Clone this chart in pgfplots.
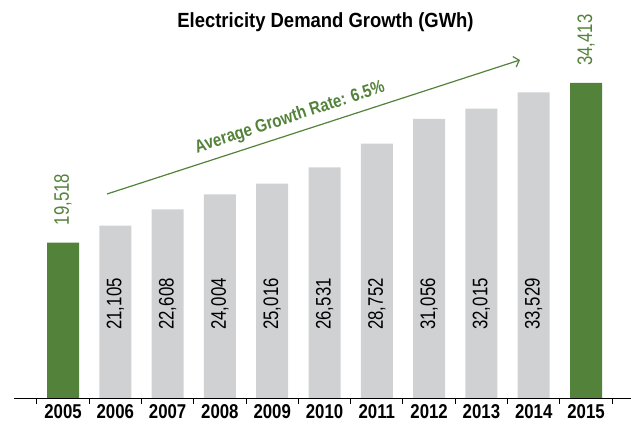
\documentclass[border=0pt]{standalone}
\usepackage{fontspec}
\setmainfont{Liberation Sans}
\newfontfamily\cond{Liberation Sans}[FakeStretch=0.84]
\newfontfamily\condl{Liberation Sans}[FakeStretch=0.8]
\newfontfamily\condt{Liberation Sans}[FakeStretch=0.9]
\usepackage{pgfplots}
\pgfplotsset{compat=1.18}
\usetikzlibrary{arrows.meta}
\definecolor{barGreen}{RGB}{83,130,58}
\definecolor{barGray}{RGB}{208,209,211}

\begin{document}
\begin{tikzpicture}
\useasboundingbox (0,0) rectangle (631bp,429bp);
\node[font=\condt\bfseries\fontsize{20.5bp}{22bp}\selectfont, anchor=base] at (325.5bp,401bp) {Electricity Demand Growth (GWh)};
\begin{axis}[
    at={(14bp,31bp)}, anchor=south west,
    scale only axis, width=617bp, height=398bp,
    xmin=-0.937, xmax=10.86, ymin=5000, ymax=42160,
    axis x line=bottom, axis y line=none,
    axis line style={-, line width=1bp, black},
    xtick={0,...,10},
    xticklabels={2005,2006,2007,2008,2009,2010,2011,2012,2013,2014,2015},
    major tick length=0pt,
    extra x ticks={-0.5,0.5,...,10.5},
    extra x tick labels={,,,,,,,,,,,},
    extra x tick style={major tick length=6bp, tick align=outside, tick style={line width=1bp, black}},
    xticklabel style={font=\cond\bfseries\fontsize{20bp}{22bp}\selectfont, yshift=-3bp},
    /pgf/number format/assume math mode=true,
]
% grey bars
\addplot[ybar, bar width=32bp, bar shift=0pt, fill=barGray, draw=none] coordinates {
    (1,21105) (2,22608) (3,24004) (4,25016) (5,26531) (6,28752) (7,31056) (8,32015) (9,33529)};
% green bars, first and last year
\addplot[ybar, bar width=32bp, bar shift=0pt, fill=barGreen, draw=none,
    nodes near coords={\pgfmathprintnumber[fixed,precision=0,1000 sep={,}]{\pgfplotspointmeta}},
    every node near coord/.style={yshift=17bp, rotate=90, anchor=west, inner sep=0pt, text=barGreen,
        font=\condl\fontsize{21bp}{22bp}\selectfont}] coordinates {
    (0,19518) (10,34413)};
% value labels inside grey bars
\addplot[draw=none, mark=none, point meta=explicit,
    nodes near coords={\pgfmathprintnumber[fixed,precision=0,1000 sep={,}]{\pgfplotspointmeta}},
    every node near coord/.style={rotate=90, anchor=center, inner sep=0pt, text=black,
        font=\condl\fontsize{21bp}{22bp}\selectfont}] coordinates {
    (1,13777) [21105] (2,13777) [22608] (3,13777) [24004] (4,13777) [25016] (5,13777) [26531]
    (6,13777) [28752] (7,13777) [31056] (8,13777) [32015] (9,13777) [33529]};
% growth arrow
\draw[barGreen, line width=1.2bp, -{Straight Barb[length=5bp, width=11bp]}]
    (axis cs:0.841,24047) -- (axis cs:8.738,36559);
\node[rotate=18, text=barGreen, font=\cond\bfseries\fontsize{18bp}{19bp}\selectfont]
    at (axis cs:4.34,31144) {Average Growth Rate: 6.5\%};
\end{axis}
\end{tikzpicture}
\end{document}
